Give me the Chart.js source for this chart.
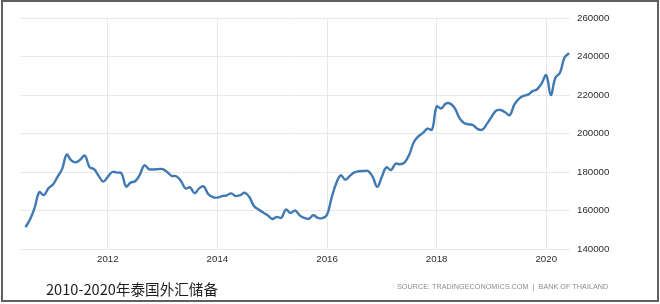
<!DOCTYPE html>
<html>
<head>
<meta charset="utf-8">
<script src="https://cdn.jsdelivr.net/npm/chart.js@4.4.0/dist/chart.umd.min.js"></script>
<style>
  html, body { margin: 0; padding: 0; background: #fff; }
  #wrap { position: relative; width: 660px; height: 304px; overflow: hidden; background: #fff; }
  #c { position: absolute; left: 0; top: 0; }
  #frame { position: absolute; left: 1px; top: 0px; width: 654px; height: 298px; border: 2px solid #5f5f5f; pointer-events: none; }
  #title { position: absolute; left: 46px; top: 278px; font-family: "Noto Sans CJK SC", sans-serif; font-size: 14.6px; line-height: 22px; color: #1e1e1e; white-space: nowrap; }
  #source { position: absolute; left: 397px; top: 281px; font-family: "Liberation Sans", sans-serif; font-size: 7.2px; line-height: 11px; color: #8c8c8c; white-space: nowrap; letter-spacing: 0.05px; }
</style>
</head>
<body>
<div id="wrap">
  <canvas id="c" width="660" height="304"></canvas>
  <div id="title">2010-2020年泰国外汇储备</div>
  <div id="source">SOURCE: TRADINGECONOMICS.COM &nbsp;|&nbsp; BANK OF THAILAND</div>
  <div id="frame"></div>
</div>
<script>
// Thailand foreign exchange reserves (USD million), monthly, Jul 2010 - Jun 2020
const startYear = 2010;
const startMonth = 7; // July
const reserves = [
  151400, 155400, 161500, 169500, 168000, 171500,
  173500, 177500, 181500, 189000, 186000, 185000, 186500, 188500, 182500, 181500, 178000, 175000,
  177500, 180000, 179700, 179300, 172500, 174500, 175200, 178500, 183500, 181500, 181300, 181500,
  181500, 180000, 178000, 177800, 175500, 171500, 172000, 169000, 171500, 172500, 168500, 167000,
  166700, 167500, 167800, 168900, 167500, 168000, 169200, 167000, 162300, 160500, 159000, 157500,
  155600, 156700, 156200, 160500, 158700, 160000, 157500, 156200, 155700, 157500, 156200, 156000,
  157800, 166500, 174000, 178300, 176000, 178000, 179800, 180400, 180500, 180500, 177500, 172300,
  177500, 182500, 181000, 184300, 184000, 185000, 189000, 195500, 198500, 200300, 202500, 202000,
  214000, 213000, 215500, 215500, 213000, 208000, 205500, 204800, 204300, 202300, 202000, 205000,
  208500, 211800, 212200, 211000, 209500, 215000, 218000, 219500, 220200, 222000, 223000, 226000,
  230300, 220000, 229000, 231500, 239500, 241700
];
const xTickYears = [2012, 2014, 2016, 2018, 2020];
const yTicks = [140000, 160000, 180000, 200000, 220000, 240000, 260000];

const points = reserves.map((v, i) => ({ x: startYear + (startMonth - 1 + i) / 12, y: v }));

const tickFont = { family: '"Liberation Sans", Arial, sans-serif', size: 9.7 };

new Chart(document.getElementById('c'), {
  type: 'line',
  data: {
    datasets: [{
      data: points,
      borderColor: '#4179b2',
      borderWidth: 2.4,
      pointRadius: 0,
      tension: 0.4,
      fill: false
    }]
  },
  options: {
    responsive: false,
    animation: false,
    events: [],
    layout: { padding: { left: 21, top: 18, right: 30, bottom: 24 } },
    plugins: { legend: { display: false }, tooltip: { enabled: false } },
    scales: {
      x: {
        type: 'linear',
        min: startYear + 5 / 12,
        max: startYear + 125.2 / 12,
        afterBuildTicks: s => { s.ticks = xTickYears.map(v => ({ value: v })); },
        afterFit: s => { s.height = 31; },
        grid: { color: '#e8e8e8', lineWidth: 1, drawTicks: false },
        border: { display: false },
        ticks: { color: '#2e2e2e', font: tickFont, padding: 5, maxRotation: 0, callback: v => String(v) }
      },
      y: {
        position: 'right',
        min: yTicks[0],
        max: yTicks[yTicks.length - 1],
        afterBuildTicks: s => { s.ticks = yTicks.map(v => ({ value: v })); },
        afterFit: s => { s.width = 60; },
        grid: { color: '#e8e8e8', lineWidth: 1, drawTicks: false },
        border: { display: false },
        ticks: { color: '#2e2e2e', font: tickFont, padding: 7, callback: v => String(v) }
      }
    }
  }
});
</script>
</body>
</html>
